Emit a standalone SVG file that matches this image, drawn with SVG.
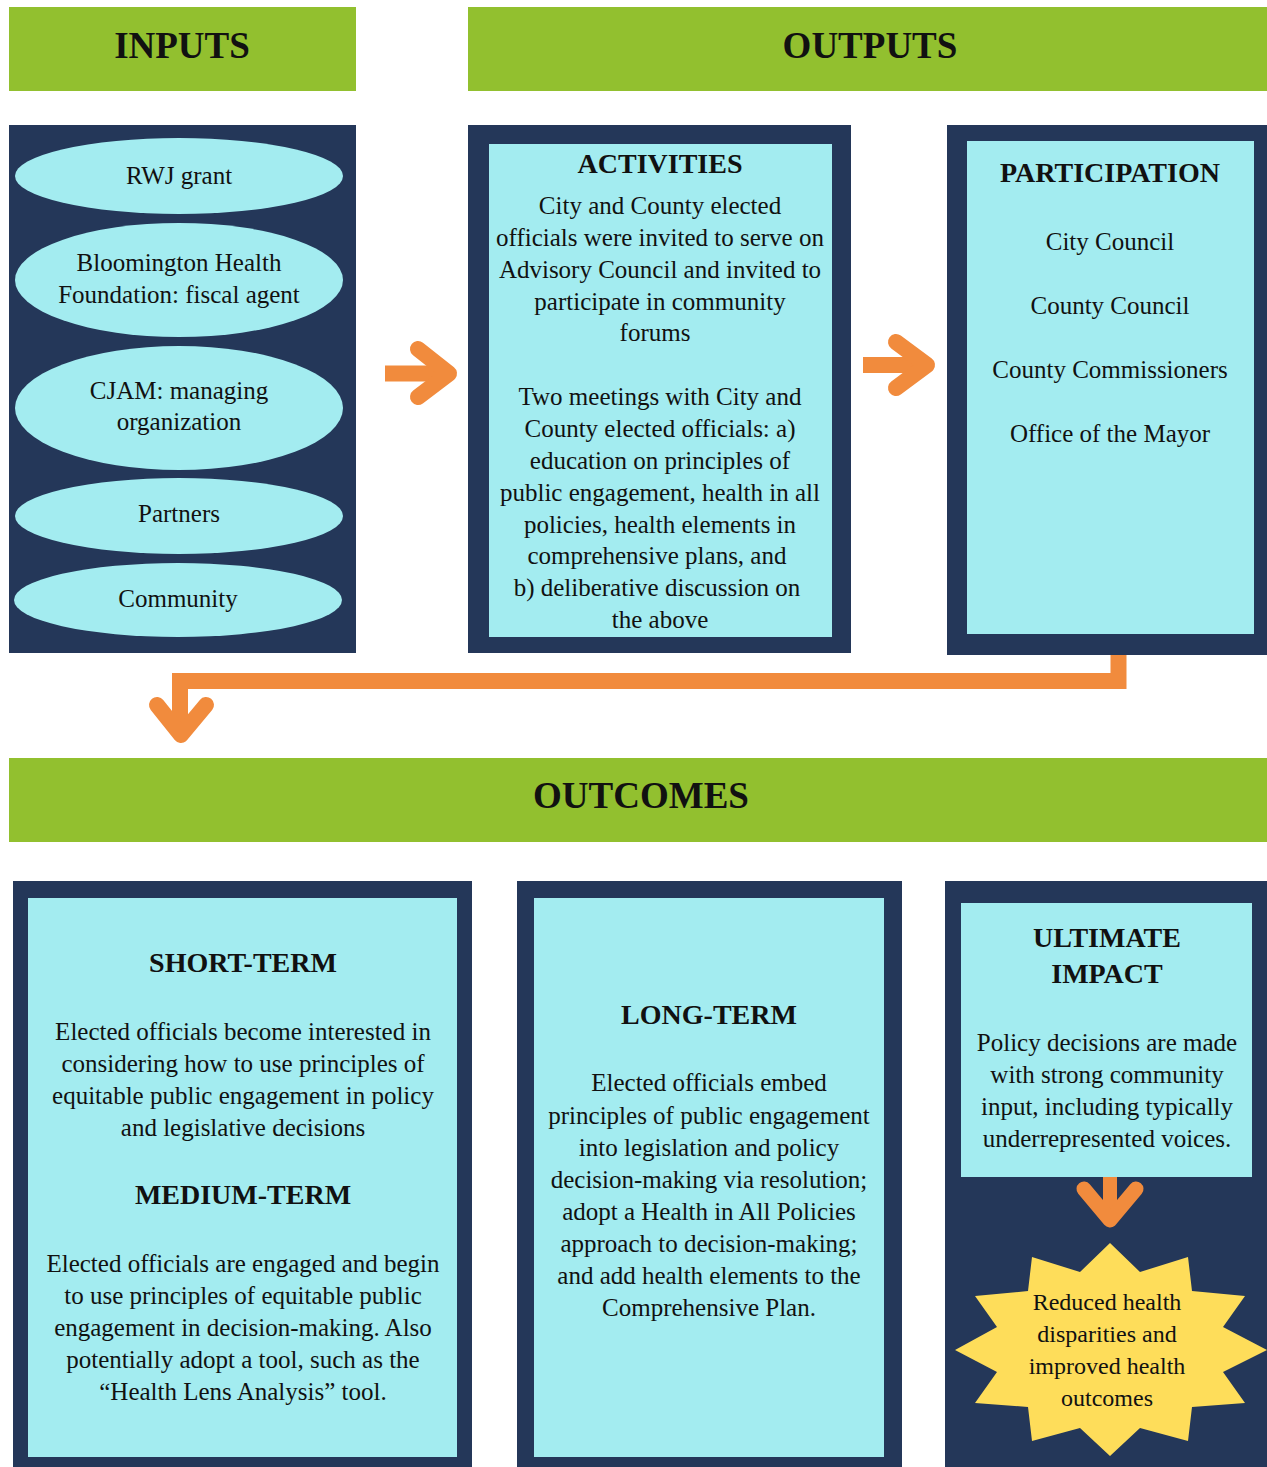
<svg xmlns="http://www.w3.org/2000/svg" width="1267" height="1467" viewBox="0 0 1267 1467">
<style>
.hdr{fill:#92C02F}
.navy{fill:#243759}
.cyan{fill:#A3ECF0}
.star{fill:#FEDD5A}
text{font-family:"Liberation Serif","Times New Roman",serif;fill:#111;text-anchor:middle}
.h1{font-size:37px;font-weight:bold}
.h2{font-size:28px;font-weight:bold}
.b{font-size:25px}
.s{font-size:24px}
.arr{fill:none;stroke:#F18B3D;stroke-width:16}
.chev{fill:none;stroke:#F18B3D;stroke-width:16;stroke-linecap:round;stroke-linejoin:round}
</style>
<rect width="1267" height="1467" fill="#fff"/>

<g id="inputs-header">
<rect class="hdr" x="9" y="7" width="347" height="84"/>
<text class="h1" x="182" y="58">INPUTS</text>
</g>
<g id="outputs-header">
<rect class="hdr" x="468" y="7" width="799" height="84"/>
<text class="h1" x="870" y="58">OUTPUTS</text>
</g>

<g id="inputs">
<rect class="navy" x="9" y="125" width="347" height="528"/>
<g id="rwj">
<ellipse class="cyan" cx="179" cy="176" rx="164" ry="38"/>
<text class="b" x="179" y="184">RWJ grant</text>
</g>
<g id="bhf">
<ellipse class="cyan" cx="179" cy="280" rx="164" ry="57"/>
<text class="b" x="179" y="271">Bloomington Health</text>
<text class="b" x="179" y="303">Foundation: fiscal agent</text>
</g>
<g id="cjam">
<ellipse class="cyan" cx="179" cy="408" rx="164" ry="62"/>
<text class="b" x="179" y="399">CJAM: managing</text>
<text class="b" x="179" y="430">organization</text>
</g>
<g id="partners">
<ellipse class="cyan" cx="179" cy="516" rx="164" ry="38"/>
<text class="b" x="179" y="522">Partners</text>
</g>
<g id="community">
<ellipse class="cyan" cx="178" cy="600" rx="164" ry="37"/>
<text class="b" x="178" y="607">Community</text>
</g>
</g>

<g id="activities">
<rect class="navy" x="468" y="125" width="383" height="528"/>
<rect class="cyan" x="489" y="144" width="343" height="493"/>
<text class="h2" x="660" y="173">ACTIVITIES</text>
<text class="b" x="660" y="214">City and County elected</text>
<text class="b" x="660" y="246">officials were invited to serve on</text>
<text class="b" x="660" y="278">Advisory Council and invited to</text>
<text class="b" x="660" y="310">participate in community</text>
<text class="b" x="655" y="341">forums</text>
<text class="b" x="660" y="405">Two meetings with City and</text>
<text class="b" x="660" y="437">County elected officials: a)</text>
<text class="b" x="660" y="469">education on principles of</text>
<text class="b" x="660" y="501">public engagement, health in all</text>
<text class="b" x="660" y="533">policies, health elements in</text>
<text class="b" x="657" y="564">comprehensive plans, and</text>
<text class="b" x="657" y="596">b) deliberative discussion on</text>
<text class="b" x="660" y="628">the above</text>
</g>

<g id="participation">
<rect class="navy" x="947" y="125" width="320" height="530"/>
<rect class="cyan" x="967" y="141" width="287" height="493"/>
<text class="h2" x="1110" y="182">PARTICIPATION</text>
<text class="b" x="1110" y="250">City Council</text>
<text class="b" x="1110" y="314">County Council</text>
<text class="b" x="1110" y="378">County Commissioners</text>
<text class="b" x="1110" y="442">Office of the Mayor</text>
</g>

<g id="outcomes-header">
<rect class="hdr" x="9" y="758" width="1258" height="84"/>
<text class="h1" x="641" y="808">OUTCOMES</text>
</g>

<g id="short-medium-term">
<rect class="navy" x="13" y="881" width="459" height="586"/>
<rect class="cyan" x="28" y="898" width="429" height="559"/>
<text class="h2" x="243" y="972">SHORT-TERM</text>
<text class="b" x="243" y="1040">Elected officials become interested in</text>
<text class="b" x="243" y="1072">considering how to use principles of</text>
<text class="b" x="243" y="1104">equitable public engagement in policy</text>
<text class="b" x="243" y="1136">and legislative decisions</text>
<text class="h2" x="243" y="1204">MEDIUM-TERM</text>
<text class="b" x="243" y="1272">Elected officials are engaged and begin</text>
<text class="b" x="243" y="1304">to use principles of equitable public</text>
<text class="b" x="243" y="1336">engagement in decision-making. Also</text>
<text class="b" x="243" y="1368">potentially adopt a tool, such as the</text>
<text class="b" x="243" y="1400">“Health Lens Analysis” tool.</text>
</g>

<g id="long-term">
<rect class="navy" x="517" y="881" width="385" height="586"/>
<rect class="cyan" x="534" y="898" width="350" height="559"/>
<text class="h2" x="709" y="1024">LONG-TERM</text>
<text class="b" x="709" y="1091">Elected officials embed</text>
<text class="b" x="709" y="1124">principles of public engagement</text>
<text class="b" x="709" y="1156">into legislation and policy</text>
<text class="b" x="709" y="1188">decision-making via resolution;</text>
<text class="b" x="709" y="1220">adopt a Health in All Policies</text>
<text class="b" x="709" y="1252">approach to decision-making;</text>
<text class="b" x="709" y="1284">and add health elements to the</text>
<text class="b" x="709" y="1316">Comprehensive Plan.</text>
</g>

<g id="ultimate-impact">
<rect class="navy" x="945" y="881" width="322" height="586"/>
<rect class="cyan" x="961" y="903" width="291" height="274"/>
<text class="h2" x="1107" y="947">ULTIMATE</text>
<text class="h2" x="1107" y="983">IMPACT</text>
<text class="b" x="1107" y="1051">Policy decisions are made</text>
<text class="b" x="1107" y="1083">with strong community</text>
<text class="b" x="1107" y="1115">input, including typically</text>
<text class="b" x="1107" y="1147">underrepresented voices.</text>
</g>

<g id="health-outcomes">
<polygon class="star" points="1110,1243 1140,1272 1188,1257 1192,1291 1245,1296 1223,1327 1267,1350 1223,1372 1245,1403 1192,1407 1188,1441 1140,1428 1110,1456 1080,1428 1032,1441 1028,1407 975,1403 997,1372 955,1350 997,1327 975,1296 1028,1291 1032,1257 1080,1272"/>
<text class="s" x="1107" y="1310">Reduced health</text>
<text class="s" x="1107" y="1342">disparities and</text>
<text class="s" x="1107" y="1374">improved health</text>
<text class="s" x="1107" y="1406">outcomes</text>
</g>

<g id="connectors">
<path class="arr" d="M385,373.5 H446"/>
<polyline class="chev" points="418,349 449,373.5 418,397"/>
<path class="arr" d="M863,365 H924"/>
<polyline class="chev" points="896,342 927,365 896,388"/>
<path class="arr" d="M1118.5,655 V681 H180 V732"/>
<polyline class="chev" points="157,705 181,735 206,705"/>
<path class="arr" style="stroke-width:14" d="M1110,1177 V1215"/>
<polyline class="chev" style="stroke-width:15" points="1084,1189 1110,1220 1136,1189"/>
</g>
</svg>
